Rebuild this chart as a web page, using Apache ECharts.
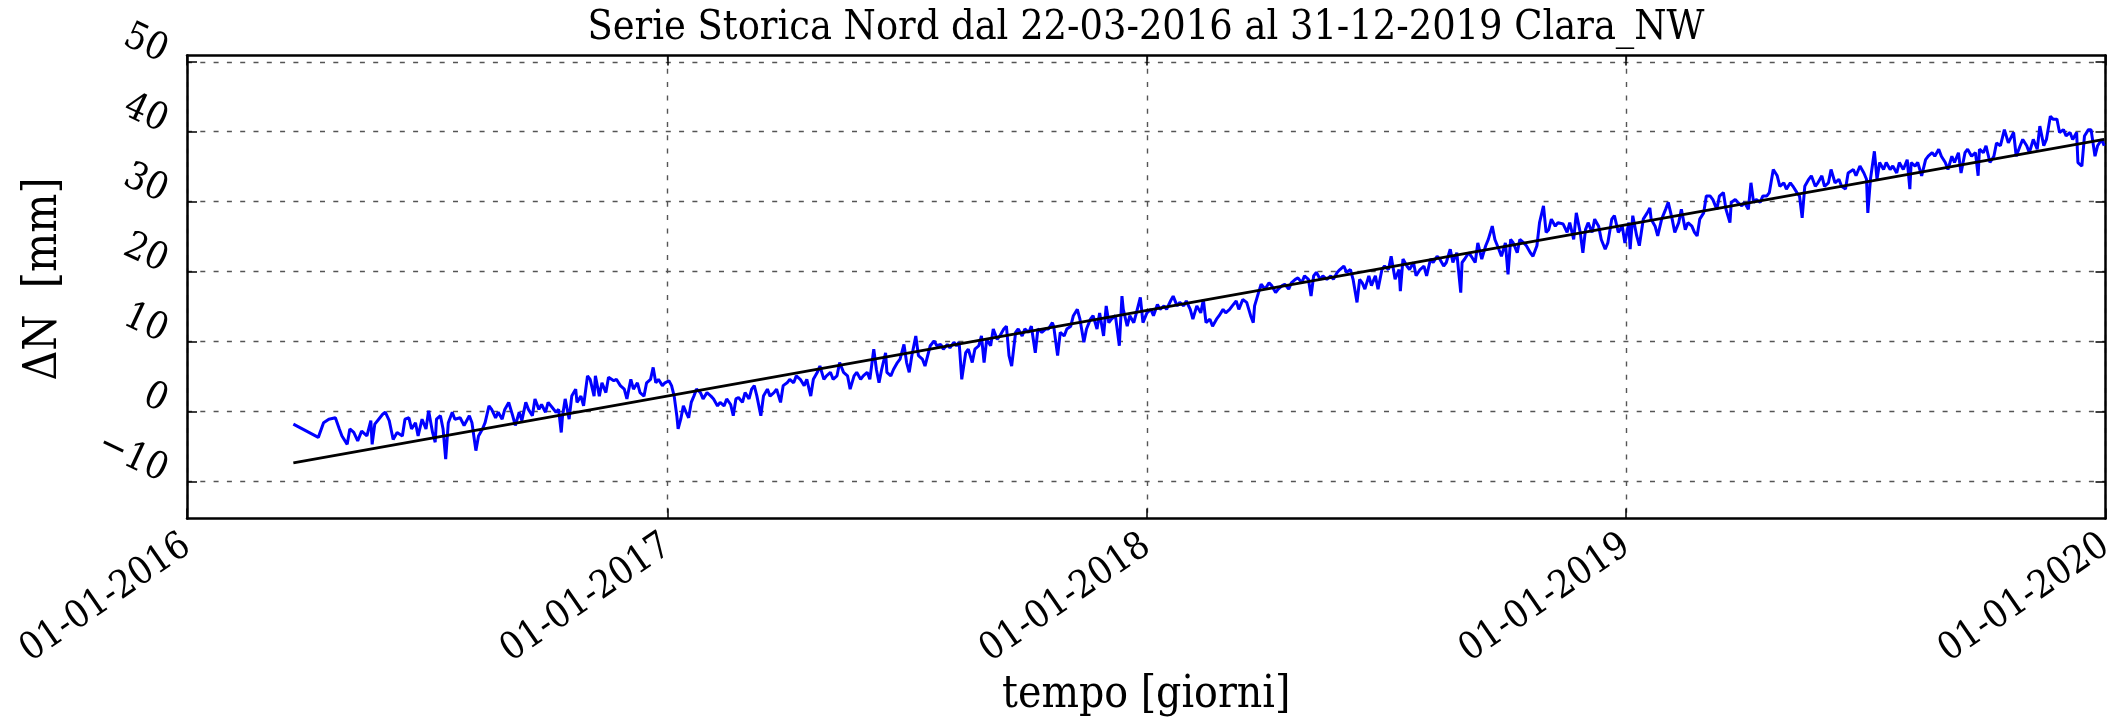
<!DOCTYPE html>
<html>
<head>
<meta charset="utf-8">
<title>Serie Storica Nord Clara_NW</title>
<script src="https://cdn.jsdelivr.net/npm/echarts@6/dist/echarts.min.js"></script>
<style>
  html, body { margin: 0; padding: 0; background: #fff; }
  #chart { width: 2108px; height: 717px; }
</style>
</head>
<body>
<div id="chart"></div>
<script>
// [giorno dal 01-01-2016, spostamento Nord in mm]
const misure2016 = [
  [81,-1.8],[100,-3.7],[104,-1.6],[108,-1.1],[113,-0.9],[116,-2.5],[118,-3.5],[122,-4.7],[124,-2.5],[127,-3.0],
  [130,-4.2],[133,-2.8],[137,-3.5],[140,-1.3],[141,-4.7],[143,-1.8],[146,-1.1],[149,-0.4],[151,-0.1],[154,-1.3],
  [157,-4.0],[160,-3.0],[164,-3.5],[166,-1.1],[169,-0.9],[171,-2.5],[174,-1.6],[176,-3.5],[179,-1.1],[182,-2.5],
  [184,0.1],[187,-3.0],[189,-4.4],[190,-1.1],[193,-0.6],[195,-2.5],[197,-6.8],[199,-1.6],[202,-0.1],[204,-1.1],
  [208,-0.9],[211,-2.0],[215,-0.6],[217,-1.6],[220,-5.6],[222,-3.5],[225,-2.5],[227,-1.6],[230,0.8],[232,0.3],
  [235,-0.9],[237,-0.1],[240,-1.1],[242,0.3],[245,1.3],[248,-0.6],[250,-2.0],[253,-0.1],[255,-1.3],[258,1.3],
  [260,0.3],[263,-0.6],[265,1.8],[268,0.3],[270,1.0],[273,-0.1],[275,1.3],[278,0.6],[281,-0.1],[283,0.3],
  [285,-3.0],[286,-0.6],[288,1.8],[291,-1.1],[293,2.2],[296,3.2],[297,1.3],[300,2.2],[302,0.8],[305,5.1],
  [307,4.6],[310,2.2],[311,5.1],[314,2.2],[316,4.1],[319,2.7],[321,4.9],[325,4.4],[327,4.6],
  [330,3.7],[333,3.2],[335,1.8],[338,4.6],[340,3.2],[343,4.1],[345,2.7],[348,2.2],[350,4.1],[353,4.6],
  [355,6.3],[357,4.1],[359,4.6],[362,3.7],[364,4.1]
];
const misure2017 = [
  [367,4.4],[369,3.7],[371,2.2],[373,-0.6],[374,-2.5],[376,-1.1],[378,0.8],[380,-0.1],[382,-0.9],[384,1.3],
  [386,2.2],[388,3.2],[391,2.7],[393,1.8],[396,2.7],[399,2.2],[401,1.8],[404,0.8],[406,1.3],[409,0.8],
  [411,1.8],[414,1.0],[416,-0.6],[418,1.8],[420,2.0],[423,1.3],[425,2.7],[428,1.8],[430,3.2],[432,3.7],
  [434,2.2],[437,-0.6],[439,2.2],[442,3.2],[444,2.2],[447,2.7],[449,3.2],[452,1.3],[454,3.7],[457,4.1],
  [459,4.6],[462,4.1],[464,5.1],[467,4.6],[470,3.7],[472,4.6],[475,2.2],[477,4.6],[480,5.6],[482,6.5],
  [485,4.6],[487,5.1],[490,5.6],[492,4.6],[495,5.1],[497,7.0],[500,5.6],[503,5.1],[505,3.2],[508,5.1],
  [510,5.6],[513,4.6],[515,5.1],[518,5.6],[520,4.6],[523,8.9],[525,6.0],[527,4.1],[529,6.0],[532,8.4],
  [533,5.6],[536,5.1],[538,6.0],[541,7.0],[543,7.5],[546,9.6],[548,7.0],[550,5.6],[552,8.0],[555,10.8],
  [557,8.0],[560,7.5],[562,6.5],[566,9.4],[569,10.1],[571,9.4],[574,9.6],[576,8.9],[579,9.6],
  [581,9.1],[584,9.9],[586,9.4],[588,9.9],[590,4.6],[593,8.4],[595,8.9],[598,7.0],[600,8.9],[603,9.4],
  [605,10.8],[607,7.0],[609,10.3],[612,9.4],[614,11.8],[617,10.3],[619,10.8],[622,11.8],[624,12.2],[626,8.0],
  [628,6.5],[631,11.3],[633,11.8],[636,10.8],[638,11.8],[641,11.3],[643,12.2],[646,8.4],[648,11.8],[651,11.3],
  [654,11.8],[656,11.8],[659,12.7],[660,12.2],[663,8.0],[665,11.3],[668,10.8],[670,11.8],[673,12.2],[675,13.7],
  [678,14.6],[680,13.2],[683,9.9],[685,11.8],[688,13.2],[690,13.7],[693,11.8],[695,14.1],[698,10.8],[700,15.1],
  [702,12.7],[704,13.2],[707,13.7],[710,9.4],[712,16.5],[713,14.6],[716,12.2],[718,13.7],[721,12.7],[723,14.1],
  [726,16.3],[728,12.7]
];
const misure2018 = [
  [731,14.1],[734,14.6],[736,13.7],[739,15.3],[741,14.6],[744,15.1],[746,14.6],[749,15.8],[751,16.5],[754,15.1],
  [756,15.6],[759,15.1],[761,15.8],[764,14.6],[766,13.2],[769,15.1],[772,14.1],[774,16.0],[776,12.7],[779,13.2],
  [781,12.2],[784,13.2],[786,13.7],[789,14.6],[791,14.1],[794,14.6],[796,15.1],[799,15.8],[801,14.6],[804,16.0],
  [807,15.6],[810,13.7],[812,12.7],[813,15.1],[816,17.0],[818,18.2],[821,17.5],[824,18.4],[826,18.0],[829,17.0],
  [831,17.5],[834,18.0],[836,18.2],[839,17.5],[841,18.4],[844,18.9],[846,19.1],[849,18.4],[851,19.4],[854,18.9],
  [856,16.5],[858,19.4],[860,19.9],[863,18.9],[865,19.4],[868,18.9],[871,19.4],[873,18.9],[876,19.9],[878,20.3],
  [881,20.8],[883,19.9],[886,20.3],[888,18.9],[891,15.6],[893,18.9],[895,18.4],[897,17.5],[900,19.4],[902,18.0],
  [905,19.4],[907,17.5],[910,20.3],[912,20.8],[915,20.3],[917,22.2],[920,18.9],[923,20.3],[924,17.2],[926,21.8],
  [929,20.8],[931,20.3],[934,21.3],[936,19.4],[939,20.3],[942,20.8],[944,19.4],[947,21.8],[949,21.3],[952,22.2],
  [954,21.8],[957,20.8],[959,21.3],[962,23.2],[964,21.3],[967,22.7],[970,17.0],[971,21.3],[973,21.8],[976,22.7],
  [978,22.2],[981,21.3],[983,24.1],[986,21.8],[989,23.7],[991,24.6],[994,26.5],[996,24.6],[999,23.2],[1001,22.2],
  [1004,24.1],[1006,19.6],[1008,24.6],[1010,24.1],[1013,22.7],[1015,24.6],[1018,24.1],[1020,23.7],[1023,22.7],[1025,22.2],
  [1028,23.7],[1030,27.0],[1033,29.4],[1035,25.6],[1037,26.0],[1039,27.5],[1042,26.5],[1044,27.0],[1048,26.8],[1051,25.6],
  [1053,27.0],[1056,24.6],[1058,28.4],[1061,25.6],[1063,22.7],[1065,26.0],[1067,27.0],[1070,25.6],[1072,27.5],[1075,26.5],
  [1077,24.6],[1080,23.2],[1082,24.1],[1085,27.5],[1087,28.0],[1090,25.6],[1093,26.5],[1095,24.1]
];
const misure2019 = [
  [1098,27.0],[1099,23.2],[1101,28.0],[1104,25.1],[1106,23.7],[1109,27.5],[1112,28.4],[1114,29.1],[1115,27.5],[1118,26.5],
  [1120,25.1],[1123,27.5],[1126,28.9],[1128,29.9],[1131,27.5],[1133,25.6],[1136,27.0],[1138,28.9],[1141,26.0],[1143,27.0],
  [1146,26.5],[1148,25.6],[1150,25.1],[1152,27.5],[1155,28.4],[1157,30.8],[1160,30.8],[1162,30.3],[1165,28.9],[1167,30.8],
  [1170,31.3],[1172,28.9],[1175,27.0],[1176,29.9],[1179,30.3],[1181,29.9],[1184,29.4],[1186,29.9],[1189,28.9],[1191,32.7],
  [1193,29.9],[1195,30.3],[1198,29.9],[1200,30.8],[1203,30.8],[1205,31.3],[1208,34.6],[1211,33.7],[1213,32.2],[1216,32.7],
  [1218,31.8],[1221,32.7],[1223,32.2],[1226,31.3],[1228,30.8],[1230,27.7],[1232,32.2],[1235,33.2],[1237,33.7],[1240,32.2],
  [1242,32.7],[1245,33.7],[1247,32.2],[1250,32.7],[1252,34.6],[1255,32.7],[1258,33.2],[1260,32.2],[1263,31.8],[1265,34.1],
  [1269,34.6],[1271,33.7],[1274,35.1],[1277,34.1],[1279,33.2],[1280,28.4],[1282,33.2],[1285,37.2],[1287,33.2],[1289,35.6],
  [1292,34.6],[1294,35.6],[1297,34.6],[1299,35.1],[1302,34.1],[1304,35.6],[1307,34.6],[1310,36.0],[1312,31.8],[1313,35.6],
  [1316,35.1],[1318,35.6],[1321,33.7],[1324,36.0],[1326,36.5],[1329,37.0],[1331,36.5],[1334,37.5],[1336,36.5],[1339,35.6],
  [1341,34.6],[1344,36.5],[1346,35.6],[1349,37.0],[1351,34.1],[1354,37.0],[1356,37.5],[1359,36.5],[1362,37.0],[1364,33.7],
  [1365,37.5],[1368,37.0],[1370,38.0],[1373,35.6],[1376,36.5],[1378,38.4],[1381,38.0],[1384,40.3],[1387,38.4],[1391,39.9],
  [1393,36.5],[1396,38.0],[1398,38.9],[1401,38.0],[1403,37.0],[1406,38.9],[1409,37.5],[1411,40.8],[1414,38.0],[1416,38.9],
  [1419,42.2],[1421,41.8],[1424,41.8],[1426,39.9],[1429,40.3],[1431,39.4],[1434,39.9],[1436,38.9],[1439,39.9],[1440,35.6],
  [1443,35.1],[1445,39.4],[1448,40.3],[1450,40.3],[1453,36.5],[1455,38.0],[1458,38.9],[1460,38.0]
];

// retta di regressione (22-03-2016 -> 31-12-2019)
const trendGiorni = [81, 1460];
const trendNord = [-7.35, 38.9];

const tickGiorni = [0, 366, 731, 1096, 1461];
const tickDate = ["01-01-2016", "01-01-2017", "01-01-2018", "01-01-2019", "01-01-2020"];
const tickNord = [-10, 0, 10, 20, 30, 40, 50];

const titolo = "Serie Storica Nord dal 22-03-2016 al 31-12-2019 Clara_NW";
const font = "'DejaVu Serif Condensed', 'DejaVu Serif', serif";

const misure = [].concat(misure2016, misure2017, misure2018, misure2019);
const trend = trendGiorni.map((g, i) => [g, trendNord[i]]);

const frame = { show: true, onZero: false, lineStyle: { color: "#000", width: 2.5 } };
const dotted = { show: true, lineStyle: { color: "#555", width: 1.4, type: [5, 8.3] } };

function ticks(values) {
  return { show: true, inside: true, length: 10, customValues: values, lineStyle: { color: "#000", width: 1.5 } };
}

const chart = echarts.init(document.getElementById("chart"));
chart.setOption({
  animation: false,
  backgroundColor: "#fff",
  title: {
    text: titolo,
    left: 1146,
    top: 8,
    padding: 0,
    textAlign: "center",
    textStyle: { fontFamily: font, fontSize: 41, fontWeight: "normal", color: "#000" }
  },
  grid: { left: 187, right: 2.5, top: 55.5, bottom: 198.5, outerBoundsMode: "none" },
  xAxis: [
    {
      type: "value", min: 0, max: 1461, position: "bottom",
      name: "tempo [giorni]", nameLocation: "middle", nameGap: 155, nameMoveOverlap: false,
      nameTextStyle: { fontFamily: font, fontSize: 44, color: "#000" },
      axisLine: frame,
      axisTick: ticks(tickGiorni),
      axisLabel: {
        customValues: tickGiorni,
        formatter: v => tickDate[tickGiorni.indexOf(v)],
        rotate: 34.5, margin: 24,
        fontFamily: font, fontSize: 38, color: "#000"
      },
      splitLine: dotted
    },
    {
      type: "value", min: 0, max: 1461, position: "top",
      axisLine: frame,
      axisTick: ticks(tickGiorni),
      axisLabel: { show: false },
      splitLine: { show: false }
    }
  ],
  yAxis: [
    {
      type: "value", min: -15.3, max: 50.9, position: "left",
      name: "\u0394N  [mm]", nameLocation: "middle", nameRotate: 90, nameGap: 120, nameMoveOverlap: false,
      nameTextStyle: { fontFamily: font, fontSize: 46, color: "#000", padding: [0, 0, 0, 16] },
      axisLine: frame,
      axisTick: ticks(tickNord),
      axisLabel: {
        customValues: tickNord,
        formatter: v => String(v).replace("-", "\u2212"),
        rotate: -25, margin: 26, verticalAlign: "bottom", lineHeight: 19,
        fontFamily: font, fontSize: 38, color: "#000"
      },
      splitLine: dotted
    },
    {
      type: "value", min: -15.3, max: 50.9, position: "right",
      axisLine: frame,
      axisTick: ticks(tickNord),
      axisLabel: { show: false },
      splitLine: { show: false }
    }
  ],
  series: [
    {
      name: "Nord",
      type: "line",
      data: misure,
      symbol: "none",
      lineStyle: { color: "#0000ff", width: 3 },
      z: 2
    },
    {
      name: "Regressione",
      type: "line",
      data: trend,
      symbol: "none",
      lineStyle: { color: "#000", width: 2.8 },
      z: 3
    }
  ]
});
</script>
</body>
</html>
